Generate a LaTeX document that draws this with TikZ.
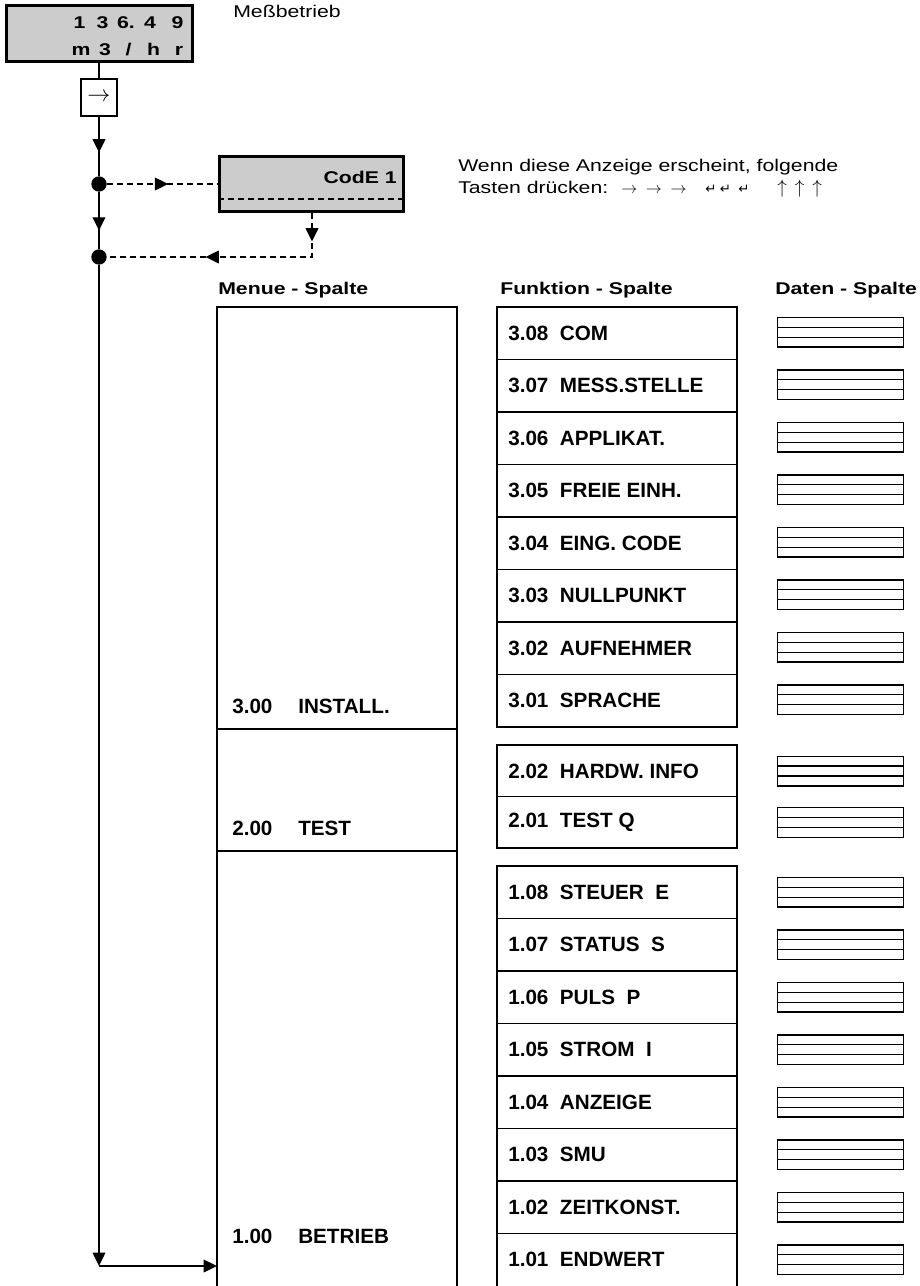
\documentclass[tikz,border=0pt]{standalone}
\usepackage{fontspec}
\setmainfont{Liberation Sans}
\newfontfamily\wfont[FakeStretch=1.25]{Liberation Sans}
\newfontfamily\symfont{DejaVu Sans}
\usetikzlibrary{arrows.meta,decorations.markings}
\definecolor{boxgray}{RGB}{204,204,204}
\begin{document}
\begin{tikzpicture}[x=0.75pt,y=-0.75pt,
  conn/.style={line width=1pt},
  dashconn/.style={line width=1pt,dash pattern=on 4.5pt off 3pt},
  arrowat/.style={postaction={decorate,decoration={markings,mark=at position #1 with {\arrow{Triangle[width=9.5pt,length=10pt]}}}}},
  tip/.style={-{Triangle[width=9.5pt,length=10pt]}},
  txt/.style={inner sep=0pt,font=\wfont\fontsize{12.75pt}{15pt}\selectfont},
  hdr/.style={inner sep=0pt,anchor=base west,font=\wfont\bfseries\fontsize{12.75pt}{15pt}\selectfont},
  disptxt/.style={inner sep=0pt,anchor=base,font=\wfont\bfseries\fontsize{12.75pt}{15pt}\selectfont},
  lbl/.style={inner sep=0pt,anchor=west,font=\bfseries\fontsize{15.5pt}{18pt}\selectfont},
  mlbl/.style={inner sep=0pt,anchor=base west,font=\bfseries\fontsize{15.5pt}{18pt}\selectfont},
  grayframe/.style={draw,line width=2.25pt,fill=boxgray},
  fgroup/.style={line width=2.2pt},
  divline/.style={line width=1pt},
  mline/.style={line width=1.6pt},
  datbox/.style={draw,line width=1pt,minimum width=94.25pt,minimum height=22.25pt,inner sep=0pt},
  dline/.style={line width=1pt},
  dotnode/.style={circle,fill=black,inner sep=0pt,minimum size=11.5pt}]
\useasboundingbox (0,0) rectangle (920,1286);
\clip (0,0) rectangle (920,1286);

% display
\node[grayframe,minimum width=139.5pt,minimum height=42pt,inner sep=0pt] (disp) at (99,33) {};
\foreach \c/\x [count=\i] in {1/79.5,3/102.5,6./126,4/150,9/177.5}
  \node[disptxt] (ra\i) at (\x,28.5) {\c};
\foreach \c/\x [count=\i] in {m/81,3/105,{/}/128.5,h/153.5,r/179}
  \node[disptxt] (rb\i) at (\x,55) {\c};
\node[txt,anchor=base west] (mess) at (233,17) {Meßbetrieb};

% key box
\node[draw,line width=0.8pt,fill=white,minimum width=27pt,minimum height=27.75pt,inner sep=0pt,
  font=\fontsize{16pt}{16pt}\selectfont] (key) at (99,97.5) {$\rightarrow$};

% dots
\node[dotnode] (dot1) at (99,184) {};
\node[dotnode] (dot2) at (99,257) {};

% CodE box
\node[grayframe,minimum width=138pt,minimum height=41.25pt,inner sep=0pt] (code) at (311.5,184) {};
\node[disptxt,anchor=base east] (codetxt) at (397,183.5) {CodE 1};
\draw[dashconn] (code.west |- 0,199) -- (code.east |- 0,199);

% note
\node[txt,anchor=base west] (note1) at (458,171) {Wenn diese Anzeige erscheint, folgende};
\node[txt,anchor=base west] (note2) at (458,193) {Tasten drücken:};
\node[inner sep=0pt,anchor=base west,font=\fontsize{12.5pt}{12pt}\selectfont] (arr) at (621,193)
  {$\rightarrow\hspace{6.5pt}\rightarrow\hspace{6.5pt}\rightarrow$};
\node[inner sep=0pt,anchor=base west,font=\symfont\fontsize{10pt}{10pt}\selectfont] (ret) at (705,193)
  {↵\hspace{2.5pt}↵\hspace{5.5pt}↵};
\node[inner sep=0pt,anchor=base west,font=\fontsize{14.5pt}{14pt}\selectfont] (ups) at (777,193)
  {$\uparrow\hspace{6pt}\uparrow\hspace{6pt}\uparrow$};

% connectors
\coordinate (c1) at (312,257);
\coordinate (bc) at (99,1266);
\coordinate (menuin) at (217,1266);
\draw[conn] (disp) -- (key);
\draw[conn,arrowat=27pt] (key) -- (dot1);
\draw[conn,arrowat=29pt] (dot1) -- (dot2);
\draw[dashconn,arrowat=46pt] (dot1) -- (code);
\draw[dashconn,arrowat=21.4pt,arrowat=112.9pt] (code.south -| c1) -- (c1) -- (dot2);
\draw[conn,tip] (dot2) -- (bc);
\draw[conn,tip] (bc) -- (menuin);

% headers
\node[hdr] (hm) at (218,294) {Menue - Spalte};
\node[hdr] (hf) at (500,294) {Funktion - Spalte};
\node[hdr] (hd) at (775,294) {Daten - Spalte};

% menu column
\draw[mline] (217,1300) -- (217,307) -- (457,307) -- (457,1300);
\draw[mline] (217,729) -- (457,729);
\draw[mline] (217,851) -- (457,851);
\node[mlbl] (m3) at (232,713) {\makebox[49.5pt][l]{3.00}INSTALL.};
\node[mlbl] (m2) at (232,835) {\makebox[49.5pt][l]{2.00}TEST};
\node[mlbl] (m1) at (232,1243) {\makebox[49.5pt][l]{1.00}BETRIEB};

% function groups
\draw[fgroup] (497,307) rectangle (737,727);
\foreach \k in {1,...,7} \draw[divline] (497,307+52.5*\k) -- (737,307+52.5*\k);
\draw[fgroup] (497,745) rectangle (737,848);
\draw[divline] (497,796.5) -- (737,796.5);
\draw[fgroup] (497,1300) -- (497,866) -- (737,866) -- (737,1300);
\foreach \k in {1,...,7} \draw[divline] (497,866+52.5*\k) -- (737,866+52.5*\k);

\foreach \t [count=\i from 0] in {3.08\ \ COM,3.07\ \ MESS.STELLE,3.06\ \ APPLIKAT.,3.05\ \ FREIE EINH.,3.04\ \ EING. CODE,3.03\ \ NULLPUNKT,3.02\ \ AUFNEHMER,3.01\ \ SPRACHE}{
  \pgfmathsetmacro\yy{333.25+52.5*\i}
  \node[lbl] (fa\i) at (508,\yy) {\t};
  \node[datbox] (da\i) at (840.5,\yy-1) {};
  \draw[dline] ([yshift=3.71pt]da\i.west) -- ([yshift=3.71pt]da\i.east);
  \draw[dline] ([yshift=-3.71pt]da\i.west) -- ([yshift=-3.71pt]da\i.east);
}
\foreach \t [count=\i from 0] in {2.02\ \ HARDW. INFO,2.01\ \ TEST Q}{
  \pgfmathsetmacro\yy{771+51.5*\i}
  \node[lbl] (fb\i) at (508,\yy) {\t};
  \node[datbox] (db\i) at (840.5,\yy) {};
  \draw[dline] ([yshift=3.71pt]db\i.west) -- ([yshift=3.71pt]db\i.east);
  \draw[dline] ([yshift=-3.71pt]db\i.west) -- ([yshift=-3.71pt]db\i.east);
}
\foreach \t [count=\i from 0] in {1.08\ \ STEUER\ \ E,1.07\ \ STATUS\ \ S,1.06\ \ PULS\ \ P,1.05\ \ STROM\ \ I,1.04\ \ ANZEIGE,1.03\ \ SMU,1.02\ \ ZEITKONST.,1.01\ \ ENDWERT}{
  \pgfmathsetmacro\yy{892.25+52.5*\i}
  \node[lbl] (fc\i) at (508,\yy) {\t};
  \node[datbox] (dc\i) at (840.5,\yy) {};
  \draw[dline] ([yshift=3.71pt]dc\i.west) -- ([yshift=3.71pt]dc\i.east);
  \draw[dline] ([yshift=-3.71pt]dc\i.west) -- ([yshift=-3.71pt]dc\i.east);
}
\end{tikzpicture}
\end{document}
